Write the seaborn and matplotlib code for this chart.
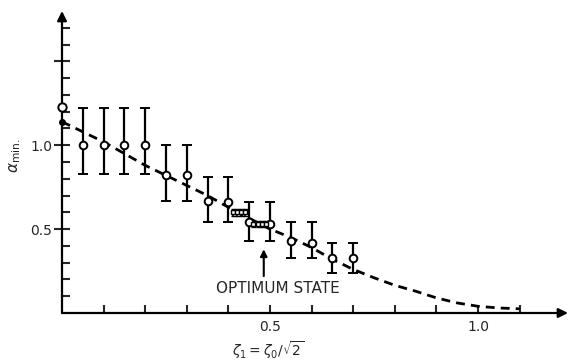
import seaborn as sns
import matplotlib.pyplot as plt
import numpy as np

# measured points with error bars
zeta = [0.05, 0.10, 0.15, 0.20, 0.25, 0.30, 0.35, 0.40, 0.45, 0.50, 0.55, 0.60, 0.65, 0.70]
alpha = [1.00, 1.00, 1.00, 1.00, 0.82, 0.82, 0.67, 0.66, 0.54, 0.53, 0.43, 0.42, 0.33, 0.33]
alpha_hi = [1.22, 1.22, 1.22, 1.22, 1.00, 1.00, 0.81, 0.81, 0.66, 0.66, 0.54, 0.54, 0.42, 0.42]
alpha_lo = [0.83, 0.83, 0.83, 0.83, 0.67, 0.67, 0.54, 0.54, 0.43, 0.43, 0.33, 0.33, 0.24, 0.24]

# point on the axis (no error bar)
zeta_axis = [0.0]
alpha_axis = [1.23]

# small cluster near the optimum state
zeta_small = [0.41, 0.42, 0.43, 0.44, 0.46, 0.47, 0.48, 0.49]
alpha_small = [0.60, 0.60, 0.60, 0.60, 0.53, 0.53, 0.53, 0.53]
err_small = [0.02] * 8

# dashed theory curve
curve_zeta = [0.0, 0.05, 0.10, 0.15, 0.20, 0.25, 0.30, 0.35, 0.40, 0.45, 0.50, 0.55,
              0.60, 0.65, 0.70, 0.75, 0.80, 0.85, 0.90, 0.95, 1.00, 1.05, 1.10]
curve_alpha = [1.14, 1.08, 1.02, 0.95, 0.88, 0.82, 0.76, 0.70, 0.63, 0.565, 0.50, 0.45,
               0.39, 0.32, 0.26, 0.21, 0.165, 0.13, 0.09, 0.06, 0.04, 0.03, 0.025]

sns.set_style("white")
plt.rcParams['font.family'] = ['DejaVu Sans']

fig = plt.figure(figsize=(5.69, 3.6), dpi=100)
ax = fig.add_axes([62 / 569, 47 / 360, 506 / 569, 302 / 360])
ax.set_xlim(0, 506 / 416)
ax.set_ylim(0, 1.8)
for s in ax.spines.values():
    s.set_visible(False)

# axes with arrow heads
arw = dict(arrowstyle='-|>', lw=1.6, color='k', mutation_scale=14, shrinkA=0, shrinkB=0)
ax.annotate('', xy=(1.0, 0), xytext=(0, 0), xycoords='axes fraction', arrowprops=arw)
ax.annotate('', xy=(0, 1.0), xytext=(0, 0), xycoords='axes fraction', arrowprops=arw)

# curve
sns.lineplot(x=curve_zeta, y=curve_alpha, ax=ax, color='k', lw=2,
             linestyle=(0, (3.2, 2.2)), sort=False, clip_on=False)
ax.plot(curve_zeta[0], curve_alpha[0], 'o', color='k', ms=4, clip_on=False)

# error bars
yerr = [np.array(alpha) - np.array(alpha_lo), np.array(alpha_hi) - np.array(alpha)]
ax.errorbar(zeta, alpha, yerr=yerr, fmt='o', color='k', ms=5.5, mfc='white',
            mec='k', mew=1.4, elinewidth=1.6, capsize=3.5, capthick=1.6, zorder=4)
ax.errorbar(zeta_small, alpha_small, yerr=err_small, fmt='s', color='k', ms=3,
            mfc='white', mec='k', mew=1.0, elinewidth=1.2, capsize=1.8,
            capthick=1.2, zorder=4)
sns.scatterplot(x=zeta_axis, y=alpha_axis, ax=ax, s=36, color='white',
                edgecolor='k', linewidth=1.4, zorder=5, clip_on=False)

# ticks
ax.set_xticks([0.5, 1.0])
ax.set_xticklabels(['0.5', '1.0'])
ax.set_xticks([0.1, 0.2, 0.3, 0.4, 0.6, 0.7, 0.8, 0.9, 1.1], minor=True)
ax.set_yticks([0.5, 1.0, 1.5])
ax.set_yticklabels(['0.5', '1.0', ''])
ax.set_yticks([0.1, 0.2, 0.3, 0.4, 0.6, 0.7, 0.8, 0.9, 1.1, 1.2, 1.3, 1.4, 1.6, 1.7],
              minor=True)
ax.tick_params(axis='x', which='both', direction='in', length=6, width=1.5,
               labelsize=10, pad=5, bottom=True)
ax.tick_params(axis='y', which='minor', direction='in', length=6, width=1.5, left=True)
ax.tick_params(axis='y', which='major', direction='inout', length=12, width=1.5,
               labelsize=10, pad=1, left=True)

# labels
ax.text(0.495, -0.122, r'$\zeta_1 = \zeta_0/\sqrt{2}$', transform=ax.get_xaxis_transform(),
        ha='center', va='center', fontsize=10)
ax.text(-0.113, 0.94, r'$\alpha_{\rm min.}$', rotation=90, ha='center', va='center',
        fontsize=11)

# optimum state annotation
ax.annotate('', xy=(0.485, 0.38), xytext=(0.485, 0.22),
            arrowprops=dict(arrowstyle='-|>', lw=1.5, color='k', mutation_scale=10,
                            shrinkA=0, shrinkB=0))
ax.text(0.52, 0.145, 'OPTIMUM STATE', ha='center', va='center', fontsize=11)

fig.savefig('out.png', dpi=100)
